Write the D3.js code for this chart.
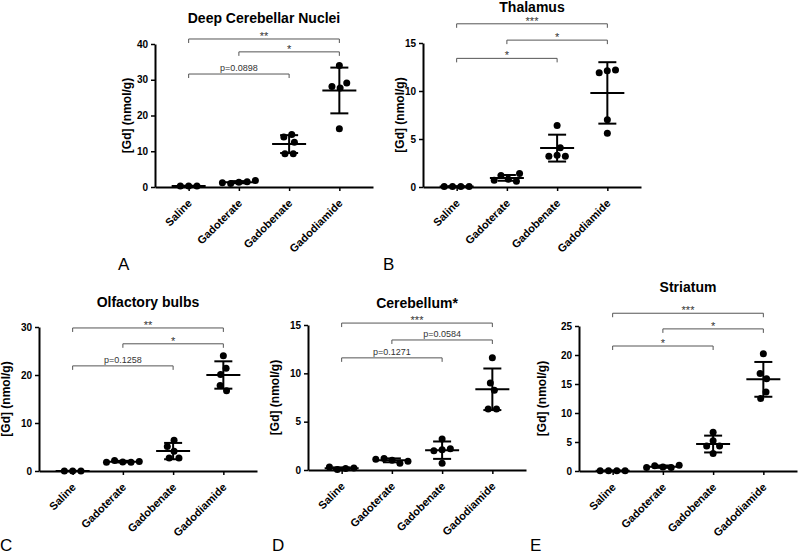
<!DOCTYPE html>
<html><head><meta charset="utf-8">
<script src="https://cdn.jsdelivr.net/npm/d3@7"></script>
<style>
body{margin:0;background:#fff}
svg{display:block;font-family:"Liberation Sans",Arial,Helvetica,sans-serif}
</style></head><body>
<svg id="chart" width="800" height="555"></svg>
<script>
// ---------------- DATA ----------------
const categories = ["Saline", "Gadoterate", "Gadobenate", "Gadodiamide"];
const panelLetters = ["A", "B", "C", "D", "E"];
const panelTitles = ["Deep Cerebellar Nuclei", "Thalamus", "Olfactory bulbs", "Cerebellum*", "Striatum"];
const yMaxima = [40, 15, 30, 15, 25];
const yTickValues = [[0, 10, 20, 30, 40], [0, 5, 10, 15], [0, 10, 20, 30], [0, 5, 10, 15], [0, 5, 10, 15, 20, 25]];
const yAxisTitle = "[Gd] (nmol/g)";

// Deep Cerebellar Nuclei
const dcnPoints = [[0.3, 0.3, 0.3], [1.3, 1.0, 1.5, 1.2, 1.8], [14.7, 14.0, 12.5, 9.3, 9.3], [27.7, 28.1, 29.1, 34.0, 16.3]];
const dcnMeans = [0.3, 1.35, 12.0, 27.0];
const dcnSD = [0.05, 0.3, 2.5, 6.4];
const dcnBrackets = [["Saline", "Gadodiamide", "**"], ["Gadoterate", "Gadodiamide", "*"], ["Saline", "Gadobenate", "p=0.0898"]];
const dcnBracketLevels = [41.4, 37.8, 31.6];

// Thalamus
const thalPoints = [[0.05, 0.05, 0.05, 0.05], [0.8, 1.2, 0.6, 1.4, 0.7], [6.4, 4.1, 3.3, 3.2, 3.2], [12.1, 11.9, 12.2, 7.0, 5.6]];
const thalMeans = [0.05, 0.95, 4.05, 9.8];
const thalSD = [0.02, 0.3, 1.4, 3.2];
const thalBrackets = [["Saline", "Gadodiamide", "***"], ["Gadoterate", "Gadodiamide", "*"], ["Saline", "Gadobenate", "*"]];
const thalBracketLevels = [17.0, 15.3, 13.4];

// Olfactory bulbs
const olfPoints = [[0, 0, 0], [1.9, 2.2, 1.8, 1.8, 2.0], [6.4, 4.1, 5.1, 2.7, 2.7], [24.0, 21.4, 20.1, 16.7, 17.8]];
const olfMeans = [0.02, 1.95, 4.15, 20.0];
const olfSD = [0.01, 0.17, 1.7, 2.85];
const olfBrackets = [["Saline", "Gadodiamide", "**"], ["Gadoterate", "Gadodiamide", "*"], ["Saline", "Gadobenate", "p=0.1258"]];
const olfBracketLevels = [29.8, 26.5, 21.9];

// Cerebellum
const cbPoints = [[0.15, 0.05, 0.2, 0.3], [1.0, 1.2, 0.7, 0.9, 1.1], [3.2, 2.1, 2.0, 2.2, 0.7], [11.6, 8.25, 9.0, 6.3, 6.3]];
const cbMeans = [0.17, 1.0, 2.05, 8.35];
const cbSD = [0.1, 0.2, 0.9, 2.15];
const cbBrackets = [["Saline", "Gadodiamide", "***"], ["Gadoterate", "Gadodiamide", "p=0.0584"], ["Saline", "Gadobenate", "p=0.1271"]];
const cbBracketLevels = [15.2, 13.45, 11.6];

// Striatum
const strPoints = [[0.05, 0.05, 0.05, 0.05], [0.7, 0.9, 0.6, 1.0, 0.6], [6.7, 5.2, 4.3, 4.3, 3.0], [20.2, 15.9, 16.8, 13.6, 12.5]];
const strMeans = [0.05, 0.75, 4.65, 15.8];
const strSD = [0.02, 0.2, 1.45, 3.0];
const strBrackets = [["Saline", "Gadodiamide", "***"], ["Gadoterate", "Gadodiamide", "*"], ["Saline", "Gadobenate", "*"]];
const strBracketLevels = [27.2, 24.5, 21.55];

// ---------------- LAYOUT ----------------
const panelData = [
  {pts: dcnPoints, means: dcnMeans, sd: dcnSD, br: dcnBrackets, lv: dcnBracketLevels},
  {pts: thalPoints, means: thalMeans, sd: thalSD, br: thalBrackets, lv: thalBracketLevels},
  {pts: olfPoints, means: olfMeans, sd: olfSD, br: olfBrackets, lv: olfBracketLevels},
  {pts: cbPoints, means: cbMeans, sd: cbSD, br: cbBrackets, lv: cbBracketLevels},
  {pts: strPoints, means: strMeans, sd: strSD, br: strBrackets, lv: strBracketLevels}
];
const frames = [
  {x0: 155, x1: 373, y0: 187, y1: 44, titleY: 23, lx: 118, ly: 270, yl: 24},
  {x0: 423, x1: 641, y0: 187, y1: 43, titleY: 12, lx: 383, ly: 270, yl: 19},
  {x0: 39, x1: 257, y0: 471, y1: 327, titleY: 307, lx: 0, ly: 551, yl: 29},
  {x0: 308, x1: 526, y0: 470, y1: 325, titleY: 308, lx: 272, ly: 551, yl: 29},
  {x0: 579, x1: 797, y0: 471, y1: 326, titleY: 292, lx: 530, ly: 551, yl: 33}
];

const svg = d3.select("#chart");
const R = 3.5, S = 8.3;

function swarm(vals, y) {
  const placed = [];
  vals.forEach(v => {
    const py = y(v);
    const cands = [0];
    placed.forEach(p => {
      const dy = Math.abs(p.y - py);
      if (dy < S) { const dx = Math.sqrt(S * S - dy * dy); cands.push(p.x - dx, p.x + dx); }
    });
    cands.sort((a, b) => (Math.abs(a) - Math.abs(b)) || (a - b));
    const ok = cands.find(c => placed.every(p => Math.hypot(p.x - c, p.y - py) >= S - 1e-6));
    placed.push({x: ok, y: py, v: v});
  });
  const parent = placed.map((_, i) => i);
  const find = i => parent[i] === i ? i : (parent[i] = find(parent[i]));
  for (let i = 0; i < placed.length; i++)
    for (let j = i + 1; j < placed.length; j++)
      if (Math.abs(placed[i].y - placed[j].y) < S) parent[find(i)] = find(j);
  const groups = d3.group(placed.map((p, i) => ({p, r: find(i)})), d => d.r);
  groups.forEach(arr => {
    const xs = arr.map(d => d.p.x);
    const sh = (d3.min(xs) + d3.max(xs)) / 2;
    arr.forEach(d => d.p.x -= sh);
  });
  return placed;
}

frames.forEach((f, i) => {
  const d = panelData[i];
  const g = svg.append("g");
  const x = d3.scalePoint().domain(categories).range([f.x0, f.x1]).padding(0.67);
  const y = d3.scaleLinear().domain([0, yMaxima[i]]).range([f.y0, f.y1]);

  g.append("text").attr("x", (f.x0 + f.x1) / 2).attr("y", f.titleY)
    .attr("text-anchor", "middle").attr("font-size", 14).attr("font-weight", "bold")
    .text(panelTitles[i]);

  const ya = g.append("g").attr("transform", `translate(${f.x0},0)`)
    .call(d3.axisLeft(y).tickValues(yTickValues[i]).tickSize(4).tickSizeOuter(0).tickPadding(3));
  ya.select(".domain").attr("stroke-width", 2).attr("stroke", "#000");
  ya.selectAll(".tick line").attr("stroke-width", 1.5).attr("stroke", "#000");
  ya.selectAll(".tick text").attr("font-size", 10).attr("font-weight", "bold").attr("fill", "#000")
    .attr("font-family", "Liberation Sans, Arial, sans-serif");

  g.append("text")
    .attr("transform", `translate(${f.x0 - f.yl},${(f.y0 + f.y1) / 2}) rotate(-90)`)
    .attr("text-anchor", "middle").attr("font-size", 12).attr("font-weight", "bold")
    .text(yAxisTitle);

  const xa = g.append("g").attr("transform", `translate(0,${f.y0})`)
    .call(d3.axisBottom(x).tickSize(4).tickSizeOuter(0).tickFormat(""));
  xa.select(".domain").attr("stroke-width", 2).attr("stroke", "#000");
  xa.selectAll(".tick line").attr("stroke-width", 1.5).attr("stroke", "#000");

  g.selectAll(".xl").data(categories).join("text")
    .attr("class", "xl")
    .attr("transform", c => `translate(${x(c) + 4},${f.y0 + 17}) rotate(-45)`)
    .attr("text-anchor", "end").attr("font-size", 11).attr("font-weight", "bold")
    .text(c => c);

  categories.forEach((c, k) => {
    const pl = swarm(d.pts[k], y);
    g.selectAll(null).data(pl).join("circle")
      .attr("cx", p => x(c) + p.x).attr("cy", p => p.y).attr("r", R).attr("fill", "#000");
    const m = d.means[k], s = d.sd[k];
    g.append("line").attr("x1", x(c) - 17).attr("x2", x(c) + 17)
      .attr("y1", y(m)).attr("y2", y(m)).attr("stroke", "#000").attr("stroke-width", 2);
    g.append("line").attr("x1", x(c)).attr("x2", x(c))
      .attr("y1", y(m - s)).attr("y2", y(m + s)).attr("stroke", "#000").attr("stroke-width", 2);
    [m - s, m + s].forEach(v => g.append("line").attr("x1", x(c) - 9).attr("x2", x(c) + 9)
      .attr("y1", y(v)).attr("y2", y(v)).attr("stroke", "#000").attr("stroke-width", 2));
  });

  d.br.forEach((b, k) => {
    const yb = y(d.lv[k]);
    const xa1 = x(b[0]), xb1 = x(b[1]);
    g.append("path").attr("d", `M${xa1},${yb + 4}V${yb}H${xb1}V${yb + 4}`)
      .attr("fill", "none").attr("stroke", "#555").attr("stroke-width", 1);
    const isStar = b[2].startsWith("*");
    const tx = (xa1 + xb1) / 2, ty = isStar ? yb + 1 : yb - 3;
    g.append("text")
      .attr("transform", `translate(${tx},${ty}) rotate(0.01)`)
      .attr("text-anchor", "middle").attr("font-size", isStar ? 11 : 9).attr("fill", "#333")
      .text(b[2]);
  });

  g.append("text").attr("x", f.lx).attr("y", f.ly).attr("font-size", 17).text(panelLetters[i]);
});
</script>
</body></html>
